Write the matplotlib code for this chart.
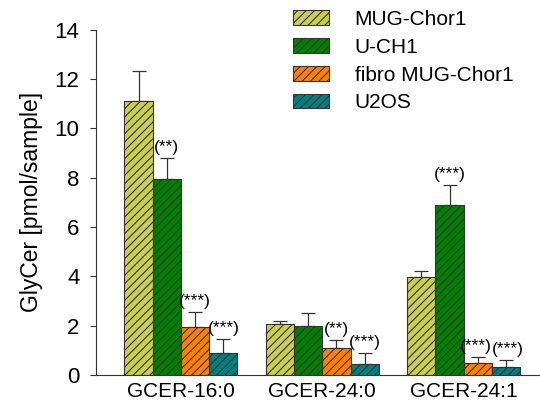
import numpy as np
import matplotlib
matplotlib.use("Agg")
import matplotlib.pyplot as plt

plt.rcParams['font.family'] = ['Liberation Sans', 'DejaVu Sans']
plt.rcParams['hatch.linewidth'] = 0.8

categories = ["GCER-16:0", "GCER-24:0", "GCER-24:1"]
series = ["MUG-Chor1", "U-CH1", "fibro MUG-Chor1", "U2OS"]
colors = ["#c8cf52", "#008000", "#ff8000", "#008080"]

values = [
    [11.1, 2.07, 3.96],   # MUG-Chor1
    [7.95, 1.98, 6.9],    # U-CH1
    [1.95, 1.08, 0.47],   # fibro MUG-Chor1
    [0.9, 0.46, 0.34],    # U2OS
]
errors = [
    [1.25, 0.12, 0.25],
    [0.85, 0.52, 0.8],
    [0.6, 0.33, 0.27],
    [0.55, 0.43, 0.26],
]
stars = [
    ["", "", ""],
    ["(**)", "", "(***)"],
    ["(***)", "(**)", "(***)"],
    ["(***)", "(***)", "(***)"],
]

fig = plt.figure(figsize=(5.4, 4.04), dpi=100)
ax = fig.add_axes([0.178, 0.072, 0.822, 0.854])

x = np.arange(len(categories))
w = 0.2
for i, name in enumerate(series):
    pos = x + (i - 1.5) * w
    ax.bar(pos, values[i], w, color=colors[i], edgecolor="#333333", linewidth=0.8,
           hatch="////", label=name, zorder=2)
    ax.errorbar(pos, values[i], yerr=[np.zeros(3), errors[i]], fmt="none",
                ecolor="#333333", elinewidth=0.9, capsize=5, capthick=0.9, zorder=1)
    for j in range(3):
        if stars[i][j]:
            dx = 0
            if j == 2 and i == 2:
                dx = -1.5
            if j == 2 and i == 3:
                dx = 1.5
            ax.annotate(stars[i][j], (pos[j], values[i][j] + errors[i][j]),
                        xytext=(dx, 2), textcoords="offset points",
                        ha="center", va="bottom", fontsize=12.5)

ax.set_xlim(-0.6, 2.54)
ax.set_ylim(0, 14)
ax.set_yticks(range(0, 15, 2))
ax.set_xticks(x)
ax.set_xticklabels(categories, fontsize=15)
ax.tick_params(axis="x", length=0, pad=5)
ax.tick_params(axis="y", labelsize=16, length=4, width=0.8, color="#333333", pad=8)
ax.set_ylabel("GlyCer [pmol/sample]", fontsize=16.5, labelpad=8)
for s in ["top", "right"]:
    ax.spines[s].set_visible(False)
for s in ["left", "bottom"]:
    ax.spines[s].set_color("#333333")
    ax.spines[s].set_linewidth(0.8)

ax.legend(loc="upper left", bbox_to_anchor=(291 / 540, 396 / 404), bbox_transform=fig.transFigure,
          frameon=False, fontsize=15, handlelength=1.7, handleheight=0.7,
          handletextpad=1.25, labelspacing=0.42, borderpad=0.1, borderaxespad=0)

fig.savefig("out.png", dpi=100)
